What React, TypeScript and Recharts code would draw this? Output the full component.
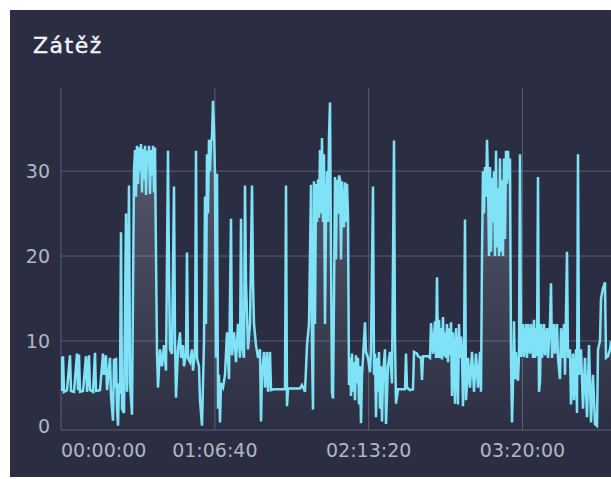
import { AreaChart, Area, XAxis, YAxis, CartesianGrid } from 'recharts';

const title = 'Zátěž';

// [seconds, load]
const samples: [number, number][] = [
  [0, 8.1], [26, 4.1], [52, 8.2], [78, 4.0], [156, 4.2], [234, 8.3], [260, 4.1], [338, 4.0], [416, 8.5], [442, 4.2],
  [468, 8.4], [494, 4.0], [572, 4.1], [650, 8.2], [676, 4.0], [728, 8.3], [754, 4.2], [832, 4.0], [884, 8.6], [910, 4.1],
  [1014, 4.2], [1092, 8.5], [1118, 6.0], [1170, 8.3], [1196, 4.2], [1274, 8.0], [1300, 3.5], [1352, 0.6], [1378, 7.9], [1404, 4.5],
  [1430, 8.0], [1456, 2.0], [1482, 0.0], [1508, 5.0], [1534, 3.8], [1560, 22.8], [1586, 2.0], [1638, 1.5], [1690, 25.0], [1716, 4.0],
  [1768, 28.3], [1794, 5.0], [1846, 1.3], [1898, 30.0], [1924, 32.5], [1950, 27.0], [1976, 33.0], [2002, 28.5], [2028, 32.8], [2054, 30.0],
  [2080, 33.2], [2106, 27.5], [2132, 32.6], [2158, 29.0], [2184, 33.0], [2210, 27.2], [2236, 32.4], [2262, 31.0], [2288, 33.0], [2314, 27.3],
  [2340, 32.5], [2366, 29.5], [2392, 33.0], [2418, 27.5], [2444, 32.8], [2470, 20.0], [2496, 8.7], [2522, 4.5], [2574, 9.0], [2626, 7.0],
  [2678, 9.5], [2730, 6.5], [2782, 32.4], [2808, 18.0], [2834, 9.0], [2886, 8.5], [2938, 28.2], [2964, 10.0], [2990, 3.3], [3042, 9.0],
  [3094, 11.0], [3120, 8.0], [3172, 9.5], [3198, 7.0], [3250, 8.5], [3276, 20.4], [3302, 8.0], [3354, 7.5], [3406, 9.0], [3432, 6.5],
  [3484, 8.7], [3510, 32.4], [3536, 8.0], [3588, 7.0], [3614, 3.0], [3666, 0.0], [3718, 10.0], [3744, 27.0], [3770, 12.0], [3796, 32.0],
  [3822, 25.0], [3848, 33.7], [3874, 30.0], [3900, 33.5], [3926, 34.0], [3952, 38.3], [3978, 35.0], [4004, 29.6], [4030, 8.0], [4056, 29.7],
  [4082, 2.0], [4108, 6.0], [4134, 0.4], [4160, 5.0], [4212, 4.5], [4264, 6.0], [4316, 11.0], [4368, 5.5], [4420, 24.4], [4446, 8.3],
  [4498, 11.0], [4550, 7.5], [4602, 12.0], [4654, 8.0], [4680, 24.4], [4706, 9.5], [4758, 8.0], [4784, 28.3], [4810, 17.0], [4862, 9.0],
  [4914, 12.0], [4966, 28.3], [4992, 17.0], [5018, 12.0], [5070, 9.5], [5122, 8.0], [5174, 9.0], [5200, 0.5], [5226, 6.0], [5278, 8.7],
  [5304, 4.5], [5356, 8.7], [5382, 4.0], [5434, 8.7], [5460, 4.2], [5538, 4.3], [5642, 4.3], [5824, 4.3], [5850, 28.3], [5876, 2.3],
  [5902, 4.4], [6214, 4.4], [6266, 4.8], [6344, 4.0], [6396, 9.5], [6448, 12.0], [6500, 28.4], [6526, 9.0], [6552, 1.9], [6578, 28.8],
  [6604, 12.0], [6630, 28.5], [6656, 24.0], [6682, 29.0], [6708, 24.5], [6734, 32.5], [6760, 25.0], [6786, 33.9], [6812, 24.0], [6838, 32.0],
  [6864, 12.0], [6890, 24.2], [6916, 30.0], [6942, 24.0], [6968, 34.0], [6994, 38.1], [7020, 20.0], [7046, 4.0], [7072, 3.2], [7098, 15.0],
  [7124, 29.3], [7150, 19.6], [7176, 29.0], [7202, 25.0], [7228, 29.5], [7254, 29.0], [7280, 19.6], [7306, 28.8], [7332, 24.0], [7358, 23.4],
  [7384, 28.7], [7410, 24.0], [7436, 28.5], [7462, 24.8], [7488, 4.8], [7514, 8.0], [7540, 3.5], [7566, 8.5], [7592, 4.0], [7618, 7.5],
  [7644, 3.0], [7670, 8.3], [7696, 5.0], [7722, 8.0], [7748, 2.5], [7774, 7.0], [7800, 0.3], [7826, 6.0], [7852, 8.0], [7904, 12.2],
  [7930, 8.7], [7982, 8.0], [8034, 6.3], [8060, 9.0], [8112, 28.2], [8138, 6.0], [8164, 8.5], [8190, 1.0], [8216, 8.0], [8242, 4.0],
  [8268, 8.7], [8294, 2.0], [8320, 7.0], [8346, 0.5], [8372, 6.0], [8424, 9.0], [8450, 0.2], [8502, 7.0], [8554, 8.7], [8606, 5.0],
  [8658, 33.6], [8684, 10.0], [8710, 2.6], [8762, 4.3], [8944, 4.3], [8970, 8.5], [8996, 4.5], [9074, 4.2], [9152, 4.3], [9178, 8.7],
  [9256, 8.5], [9282, 8.2], [9360, 8.0], [9386, 5.4], [9412, 8.2], [9542, 8.2], [9594, 8.0], [9620, 12.1], [9672, 8.5], [9724, 12.3],
  [9750, 8.0], [9776, 17.5], [9802, 8.0], [9828, 12.5], [9854, 8.0], [9880, 11.5], [9906, 7.8], [9932, 12.8], [9958, 8.2], [9984, 11.0],
  [10010, 8.0], [10036, 12.0], [10062, 7.5], [10088, 11.5], [10114, 8.3], [10140, 12.2], [10166, 3.5], [10192, 11.0], [10218, 8.0], [10244, 2.6],
  [10270, 11.5], [10296, 8.0], [10322, 2.5], [10348, 12.0], [10374, 8.0], [10400, 10.5], [10426, 8.5], [10452, 2.3], [10478, 8.0], [10504, 24.3],
  [10530, 3.0], [10556, 5.0], [10582, 8.0], [10634, 4.5], [10686, 8.7], [10738, 4.0], [10790, 8.5], [10842, 4.5], [10894, 8.7], [10920, 4.0],
  [10946, 20.0], [10972, 30.0], [10998, 25.0], [11024, 30.5], [11050, 27.0], [11076, 33.7], [11102, 29.0], [11128, 20.0], [11154, 30.5], [11180, 20.5],
  [11206, 29.2], [11232, 24.0], [11258, 30.0], [11284, 20.0], [11310, 32.4], [11336, 21.0], [11362, 28.0], [11388, 20.0], [11414, 31.5], [11440, 20.5],
  [11466, 29.0], [11492, 20.0], [11518, 31.5], [11544, 22.0], [11570, 32.4], [11596, 28.5], [11622, 32.4], [11648, 29.0], [11674, 31.5], [11700, 8.0],
  [11726, 0.4], [11752, 5.0], [11778, 12.3], [11804, 5.5], [11830, 8.7], [11856, 6.0], [11882, 5.3], [11908, 8.5], [11934, 32.0], [11960, 8.1],
  [12012, 12.0], [12038, 8.1], [12090, 12.0], [12116, 8.0], [12142, 12.0], [12194, 8.5], [12220, 12.0], [12272, 8.0], [12298, 12.5], [12324, 8.0],
  [12350, 11.5], [12376, 8.2], [12402, 29.3], [12428, 4.0], [12454, 5.2], [12480, 12.0], [12506, 8.0], [12558, 12.0], [12584, 8.3], [12636, 11.5],
  [12662, 8.0], [12714, 12.0], [12740, 16.8], [12766, 8.0], [12818, 12.0], [12844, 8.5], [12896, 12.0], [12922, 8.0], [12974, 5.5], [13000, 11.5],
  [13052, 8.0], [13078, 12.0], [13104, 6.0], [13156, 20.5], [13182, 8.0], [13234, 9.0], [13260, 2.5], [13312, 8.5], [13338, 3.0], [13390, 9.0],
  [13416, 1.5], [13442, 32.0], [13468, 6.0], [13520, 9.0], [13572, 2.0], [13624, 8.0], [13676, 1.0], [13728, 9.5], [13780, 0.4], [13832, 6.0],
  [13884, 0.2], [13936, 0.0], [13962, 9.0], [14014, 10.0], [14040, 15.0], [14092, 16.2], [14144, 16.9], [14170, 8.0], [14222, 8.2], [14274, 9.0],
  [14300, 10.0],
];

const xTicks = [0, 4000, 8000, 12000];
const yTicks = [0, 10, 20, 30];

const data = samples.map(([t, load]) => ({ t, load }));

const pad = (n: number) => String(n).padStart(2, '0');
const fmtTime = (s: number) =>
  `${pad(Math.floor(s / 3600))}:${pad(Math.floor((s % 3600) / 60))}:${pad(s % 60)}`;

const font = '"DejaVu Sans", sans-serif';
const tickColor = '#b4b6c2';
const gridColor = '#5c5f70';

function TimeTick(props: any) {
  const { x, y, payload } = props;
  const first = payload.value === 0;
  return (
    <text x={x} y={y} dy="0.71em" textAnchor={first ? 'start' : 'middle'}
      fill={tickColor} fontSize={19} fontFamily={font}>
      {fmtTime(payload.value)}
    </text>
  );
}

export default function App() {
  return (
    <div style={{ position: 'absolute', left: 0, top: 0, width: 611, height: 479, background: '#fff' }}>
      <div style={{ position: 'absolute', left: 10, top: 10, width: 601, height: 467, background: '#2b2e42', overflow: 'hidden' }}>
        <div style={{
          position: 'absolute', left: 23, top: 25, color: '#f4f4f7', fontFamily: font,
          fontSize: 22, lineHeight: '22px', letterSpacing: 1.5, WebkitTextStroke: '0.4px #f4f4f7',
        }}>
          {title}
        </div>
        <div style={{ position: 'absolute', left: 0, top: 0 }}>
          <AreaChart width={601} height={467} data={data} margin={{ top: 78, right: 0, bottom: 17, left: 0 }}>
            <defs>
              <linearGradient id="loadFill" x1="0" y1="0" x2="0" y2="1">
                <stop offset="0%" stopColor="#c4c4d0" stopOpacity={0.55} />
                <stop offset="100%" stopColor="#c4c4d0" stopOpacity={0.02} />
              </linearGradient>
            </defs>
            <CartesianGrid stroke={gridColor} horizontalValues={[10, 20, 30]} verticalValues={xTicks} />
            <XAxis dataKey="t" type="number" domain={[0, 14300]} ticks={xTicks} interval={0}
              tick={<TimeTick />} tickLine={false} tickSize={0} tickMargin={14} height={30}
              axisLine={{ stroke: gridColor }} allowDataOverflow />
            <YAxis domain={[-0.5, 39.8]} ticks={yTicks} width={51} tickLine={false} tickSize={0} tickMargin={11}
              axisLine={false} allowDataOverflow
              tick={{ fill: tickColor, fontSize: 19, fontFamily: font }} />
            <Area type="linear" dataKey="load" stroke="#7fe2f7" strokeWidth={2.5} fill="url(#loadFill)"
              isAnimationActive={false} dot={false} activeDot={false} />
          </AreaChart>
        </div>
      </div>
    </div>
  );
}
